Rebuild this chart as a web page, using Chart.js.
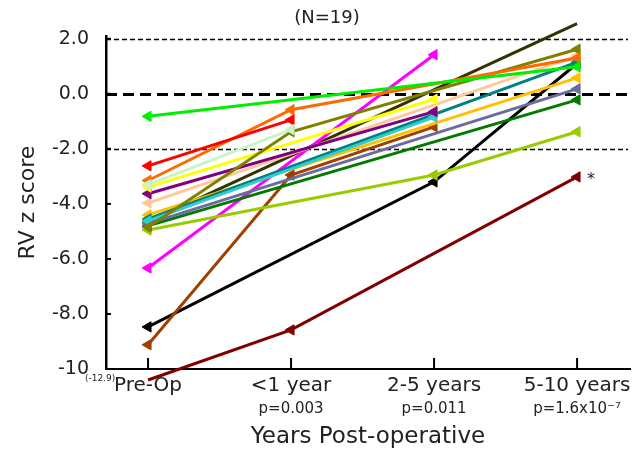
<!DOCTYPE html>
<html>
<head>
<meta charset="utf-8">
<script src="https://cdn.jsdelivr.net/npm/chart.js@4.4.1/dist/chart.umd.min.js"></script>
<style>
  html, body { margin: 0; padding: 0; background: #fff; }
  #wrap { width: 640px; height: 453px; }
</style>
</head>
<body>
<div id="wrap"><canvas id="c" width="640" height="453"></canvas></div>
<script>
// ---- data ----
const categories = ['Pre-Op', '<1 year', '2-5 years', '5-10 years'];
const pValues = ['', 'p=0.003', 'p=0.011', 'p=1.6x10\u207B\u2077'];
const yTicks = [-10, -8, -6, -4, -2, 0, 2];
const yTickLabels = ['-10', '-8.0', '-6.0', '-4.0', '-2.0', '0.0', '2.0'];
const refLines = [2, 0, -2];

// values per patient (null = not measured); dark red Pre-Op is plotted off-scale (true value -12.9)
const lime        = [-0.82, null, null, 0.98];
const red         = [-2.62, -0.95, null, null];
const orange      = [-3.15, -0.58, null, 1.30];
const paleGreen   = [-3.30, -1.30, null, null];
const olive       = [-4.85, -1.38, null, 1.62];
const yellow      = [-3.39, null, -0.20, null];
const purple      = [-3.63, null, -0.65, null];
const cyan        = [-4.62, null, -0.85, null];
const brown       = [-9.12, -2.95, -1.20, null];
const peach       = [-3.97, null, null, 1.38];
const teal        = [-4.55, null, null, 1.15];
const black       = [-8.47, null, -3.20, 1.10];
const gold        = [-4.40, null, null, 0.58];
const slate       = [-4.72, null, null, 0.18];
const darkGreen   = [-4.80, null, null, -0.22];
const yellowGreen = [-4.95, null, -2.95, -1.38];
const magenta     = [-6.33, null, 1.42, null];
const darkRed     = [-10.40, -8.58, null, -3.02];
const darkOlive   = [-4.65, null, null, 2.55];

const series = [
  [paleGreen, '#c8f5c8'], [lime, '#00ee00'], [red, '#ff0000'], [orange, '#ff6a00'],
  [olive, '#808000'], [yellow, '#ffff00'], [purple, '#800080'], [cyan, '#33cccc'],
  [peach, '#ffc89a'], [teal, '#008080'], [gold, '#ffc000'], [slate, '#6b6b9e'],
  [darkGreen, '#007a00'], [yellowGreen, '#99cc00'], [brown, '#a04000'], [magenta, '#ff00ff'],
  [black, '#000000'], [darkOlive, '#333300'], [darkRed, '#800000']
];
const annotations = { belowAxisLabel: '(-12.9)', star: '*' };

const datasets = series.map(([vals, col]) => ({
  data: vals.map((v, i) => v === null ? null : { x: i, y: v }).filter(p => p !== null),
  borderColor: col,
  backgroundColor: col,
  borderWidth: 3,
  pointStyle: 'triangle',
  pointRotation: -90,
  pointRadius: 6,
  pointBorderWidth: 1,
  pointBackgroundColor: col,
  pointBorderColor: col,
  tension: 0,
  clip: false
}));

const FONT = 'DejaVu Sans';

const decor = {
  id: 'decor',
  beforeDatasetsDraw(chart) {
    const { ctx, chartArea: a, scales: { x, y } } = chart;
    ctx.save();
    refLines.forEach(v => {
      const py = Math.round(y.getPixelForValue(v)) + 0.5;
      ctx.beginPath();
      if (v === 0) { ctx.lineWidth = 3; ctx.setLineDash([11, 6]); }
      else { ctx.lineWidth = 1.5; ctx.setLineDash([5, 3]); }
      ctx.strokeStyle = '#000';
      ctx.moveTo(a.left, py);
      ctx.lineTo(a.right - 2, py);
      ctx.stroke();
    });
    ctx.restore();
  },
  afterDraw(chart) {
    const { ctx, chartArea: a, scales: { x, y } } = chart;
    ctx.save();
    ctx.strokeStyle = '#000';
    ctx.lineWidth = 2;
    ctx.setLineDash([]);
    yTicks.forEach(v => {
      const py = y.getPixelForValue(v);
      ctx.beginPath(); ctx.moveTo(a.left, py); ctx.lineTo(a.left + 5, py); ctx.stroke();
    });
    categories.forEach((c, i) => {
      const px = x.getPixelForValue(i);
      ctx.beginPath(); ctx.moveTo(px, a.bottom); ctx.lineTo(px, a.bottom - 11); ctx.stroke();
    });
    ctx.fillStyle = '#222';
    ctx.textAlign = 'center';
    ctx.textBaseline = 'middle';
    ctx.font = '15px "' + FONT + '"';
    pValues.forEach((p, i) => {
      if (p) ctx.fillText(p, x.getPixelForValue(i), 409);
    });
    ctx.font = '18px "' + FONT + '"';
    ctx.fillText('(N=19)', 327, 18);
    ctx.font = '9px "' + FONT + '"';
    ctx.fillText(annotations.belowAxisLabel, x.getPixelForValue(0) - 50 + 2, y.getPixelForValue(darkRed[0]) - 1);
    ctx.font = '16px "' + FONT + '"';
    ctx.fillText(annotations.star, x.getPixelForValue(3) + 14, y.getPixelForValue(darkRed[3]) + 3);
    ctx.restore();
  }
};

new Chart(document.getElementById('c'), {
  type: 'line',
  data: { datasets },
  options: {
    responsive: false,
    animation: false,
    devicePixelRatio: 1,
    layout: { padding: { top: 36, right: 10, left: 0, bottom: 0 } },
    plugins: { legend: { display: false }, tooltip: { enabled: false } },
    scales: {
      x: {
        type: 'linear',
        min: -0.294,
        max: 3.37,
        afterFit: s => { s.height = 84; },
        afterBuildTicks: s => { s.ticks = categories.map((c, i) => ({ value: i })); },
        grid: { display: true, drawOnChartArea: false, drawTicks: false },
        border: { display: true, color: '#000', width: 2 },
        ticks: {
          autoSkip: false,
          maxRotation: 0,
          padding: 5,
          color: '#222',
          font: { family: FONT, size: 20 },
          callback: (v, i) => categories[i]
        },
        title: {
          display: true,
          text: 'Years Post-operative',
          color: '#222',
          font: { family: FONT, size: 23 },
          padding: { top: 0, bottom: 2 }
        }
      },
      y: {
        type: 'linear',
        min: -10,
        max: 2.1,
        afterFit: s => { s.width = 106; },
        afterBuildTicks: s => { s.ticks = yTicks.map(v => ({ value: v })); },
        grid: { display: true, drawOnChartArea: false, drawTicks: false },
        border: { display: true, color: '#000', width: 2.5 },
        ticks: {
          padding: 17,
          color: '#222',
          font: { family: FONT, size: 19 },
          callback: (v, i) => yTickLabels[i]
        },
        title: {
          display: true,
          text: 'RV z score',
          color: '#222',
          font: { family: FONT, size: 22 },
          padding: { top: 15, bottom: 0 }
        }
      }
    }
  },
  plugins: [decor]
});
</script>
</body>
</html>
